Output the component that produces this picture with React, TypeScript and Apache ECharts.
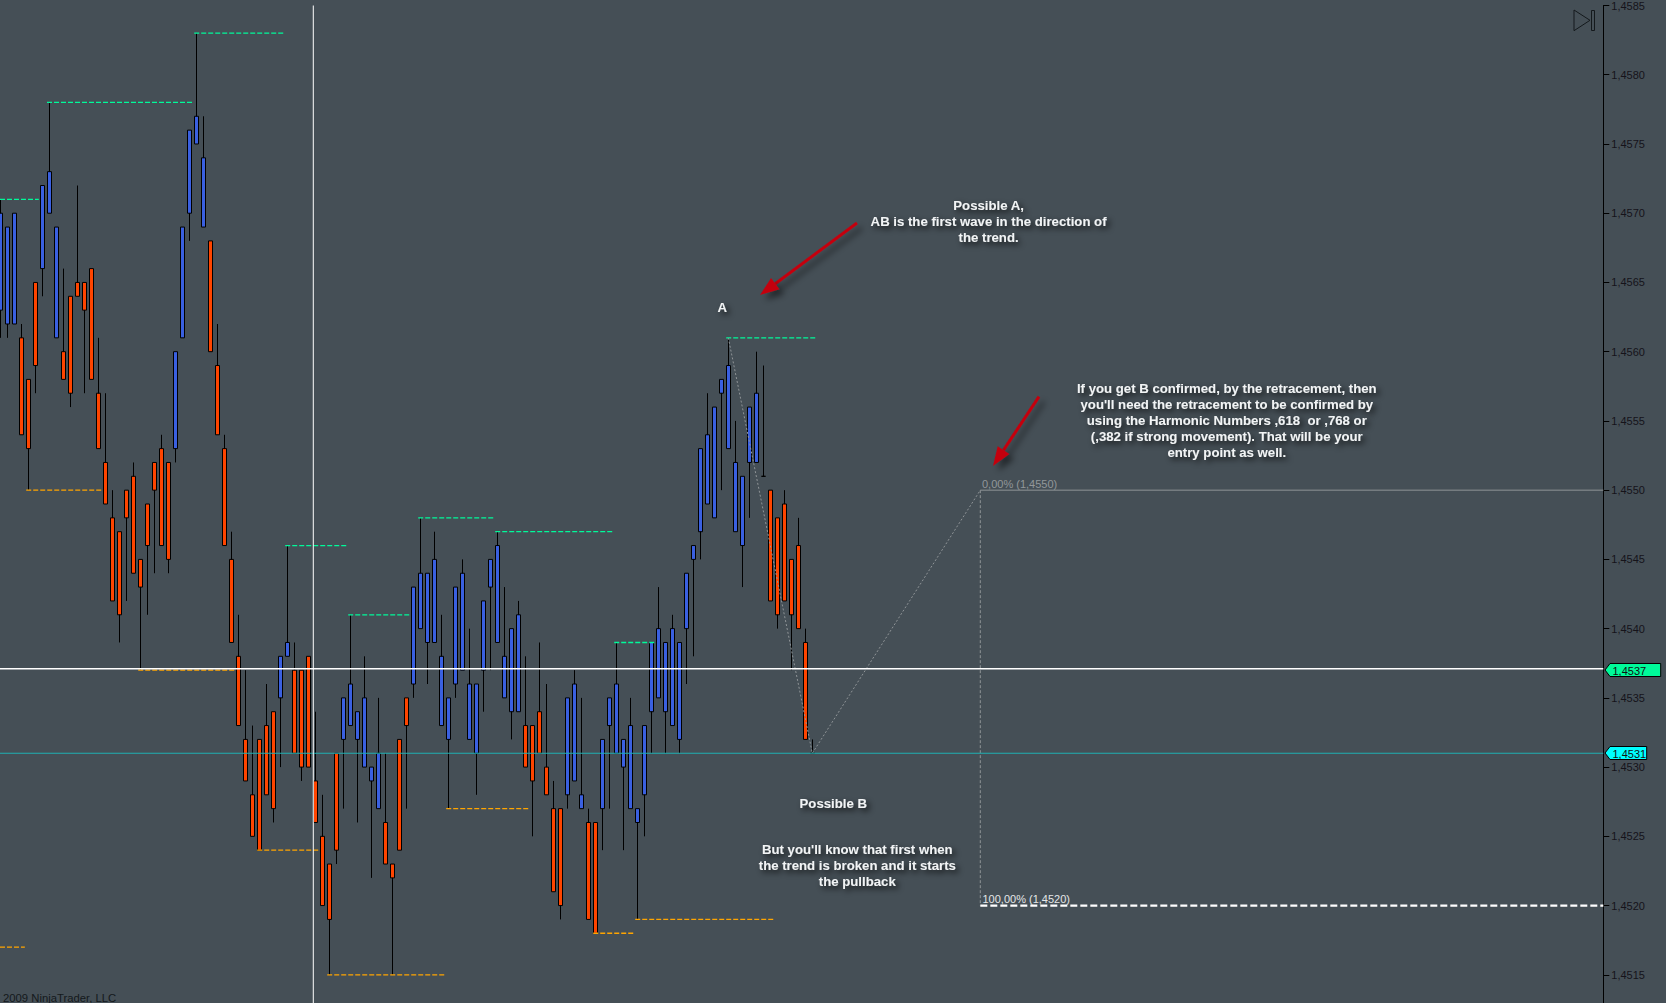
import React, { useEffect, useRef } from "react";
import * as echarts from "echarts";

const opens = [1.4563,1.4562,1.4562,1.4561,1.4558,1.4565,1.4566,1.4570,1.4561,1.4560,1.4564,1.4565,1.4565,1.4566,1.4557,1.4552,1.4548,1.4547,1.4550,1.4551,1.4545,1.4549,1.4552,1.4553,1.4552,1.4553,1.4561,1.4570,1.4575,1.4569,1.4568,1.4559,1.4553,1.4545,1.4538,1.4532,1.4528,1.4532,1.4533,1.4534,1.4535,1.4538,1.4537,1.4537,1.4538,1.4529,1.4525,1.4523,1.4531,1.4532,1.4533,1.4532,1.4530,1.4529,1.4527,1.4526,1.4523,1.4532,1.4535,1.4536,1.4540,1.4539,1.4539,1.4533,1.4532,1.4536,1.4537,1.4532,1.4531,1.4537,1.4543,1.4539,1.4535,1.4534,1.4534,1.4533,1.4533,1.4534,1.4530,1.4527,1.4527,1.4528,1.4529,1.4527,1.4526,1.4526,1.4527,1.4533,1.4531,1.4530,1.4527,1.4526,1.4528,1.4534,1.4535,1.4534,1.4533,1.4532,1.4540,1.4545,1.4547,1.4549,1.4548,1.4557,1.4553,1.4547,1.4546,1.4552,1.4552,1.4551,1.4550,1.4548,1.4549,1.4545,1.4546,1.4539,1.4531];
const closes = [1.4570,1.4569,1.4570,1.4554,1.4553,1.4559,1.4572,1.4573,1.4569,1.4558,1.4557,1.4564,1.4563,1.4558,1.4553,1.4549,1.4542,1.4541,1.4548,1.4544,1.4543,1.4546,1.4550,1.4546,1.4545,1.4560,1.4569,1.4576,1.4577,1.4574,1.4560,1.4554,1.4546,1.4539,1.4533,1.4529,1.4525,1.4524,1.4528,1.4527,1.4538,1.4539,1.4531,1.4530,1.4530,1.4526,1.4520,1.4519,1.4524,1.4535,1.4536,1.4534,1.4535,1.4530,1.4531,1.4523,1.4522,1.4524,1.4533,1.4543,1.4544,1.4544,1.4545,1.4538,1.4535,1.4543,1.4544,1.4536,1.4536,1.4542,1.4545,1.4546,1.4538,1.4540,1.4541,1.4530,1.4529,1.4531,1.4528,1.4521,1.4520,1.4535,1.4536,1.4528,1.4519,1.4518,1.4532,1.4535,1.4536,1.4532,1.4533,1.4527,1.4533,1.4539,1.4540,1.4539,1.4540,1.4539,1.4544,1.4546,1.4553,1.4554,1.4556,1.4558,1.4559,1.4552,1.4551,1.4556,1.4557,1.4551,1.4542,1.4541,1.4542,1.4541,1.4540,1.4532,1.4531];
const lows = [1.4561,1.4561,1.4562,1.4554,1.4550,1.4557,1.4564,1.4570,1.4561,1.4558,1.4556,1.4564,1.4557,1.4558,1.4553,1.4549,1.4542,1.4539,1.4542,1.4544,1.4537,1.4541,1.4544,1.4546,1.4544,1.4552,1.4561,1.4568,1.4575,1.4569,1.4560,1.4554,1.4546,1.4539,1.4533,1.4529,1.4525,1.4524,1.4528,1.4526,1.4530,1.4538,1.4531,1.4529,1.4530,1.4526,1.4520,1.4515,1.4523,1.4527,1.4533,1.4526,1.4530,1.4522,1.4527,1.4523,1.4515,1.4524,1.4527,1.4535,1.4540,1.4536,1.4539,1.4533,1.4527,1.4535,1.4537,1.4532,1.4528,1.4534,1.4537,1.4539,1.4535,1.4532,1.4534,1.4530,1.4525,1.4531,1.4528,1.4521,1.4519,1.4527,1.4529,1.4527,1.4519,1.4518,1.4524,1.4527,1.4531,1.4524,1.4527,1.4519,1.4525,1.4531,1.4535,1.4531,1.4533,1.4531,1.4536,1.4538,1.4545,1.4549,1.4548,1.4550,1.4553,1.4547,1.4543,1.4548,1.4552,1.4551,1.4542,1.4540,1.4542,1.4537,1.4540,1.4532,1.4531];
const highs = [1.4571,1.4569,1.4570,1.4562,1.4558,1.4565,1.4572,1.4578,1.4569,1.4566,1.4564,1.4572,1.4565,1.4566,1.4561,1.4557,1.4550,1.4547,1.4550,1.4552,1.4545,1.4549,1.4552,1.4554,1.4552,1.4560,1.4569,1.4576,1.4583,1.4577,1.4568,1.4562,1.4554,1.4547,1.4541,1.4537,1.4533,1.4532,1.4536,1.4534,1.4538,1.4546,1.4539,1.4537,1.4538,1.4534,1.4528,1.4523,1.4531,1.4535,1.4541,1.4534,1.4538,1.4530,1.4535,1.4531,1.4523,1.4532,1.4535,1.4543,1.4548,1.4544,1.4547,1.4541,1.4535,1.4543,1.4545,1.4540,1.4536,1.4542,1.4545,1.4547,1.4543,1.4540,1.4542,1.4538,1.4533,1.4539,1.4536,1.4529,1.4527,1.4535,1.4537,1.4535,1.4527,1.4526,1.4532,1.4535,1.4539,1.4532,1.4535,1.4527,1.4533,1.4539,1.4543,1.4539,1.4541,1.4539,1.4544,1.4546,1.4553,1.4557,1.4556,1.4558,1.4561,1.4555,1.4551,1.4556,1.4560,1.4559,1.4550,1.4548,1.4550,1.4545,1.4548,1.4540,1.4532];

// [first bar, last bar, price] of the swing high / low dashes
const swingHighs = [[-0.05,5.5,1.4571],[6.67,27.5,1.4578],[27.7,40.5,1.4583],[40.7,49.5,1.4546],[49.7,58.5,1.4541],[59.7,70.5,1.4548],[70.7,87.5,1.4547],[87.7,93.5,1.4539],[103.7,116.5,1.4561]];
const swingLows = [[-0.05,3.5,1.4517],[3.7,14.5,1.4550],[19.7,33.5,1.4537],[36.7,45.5,1.4524],[46.7,63.5,1.4515],[63.7,75.5,1.4527],[84.7,90.5,1.4518],[90.7,110.5,1.4519]];
const abcPath = [[104,1.4561],[116,1.4531],[140,1.4550]];
const fibBar = 140;
const fibTop = 1.4550;
const fibBottom = 1.4520;
const lastPrice = 1.45371;
const lastTick = 1.4531;
const cursorBar = 44.71;

const noteA = ["Possible A,", "AB is the first wave in the direction of", "the trend."];
const noteRetrace = ["If you get B confirmed, by the retracement, then", "you'll need the retracement to be confirmed by", "using the Harmonic Numbers ,618  or ,768 or", "(,382 if strong movement). That will be your", "entry point as well."];
const noteB = ["But you'll know that first when", "the trend is broken and it starts", "the pullback"];

const SANS = '"Liberation Sans", Arial, sans-serif';
const XMIN = -0.33 / 7;
const XMAX = 1603 / 7;
const YMIN = 1.451;
const YMAX = 1.4585;

function seg(points: number[][], color: string, width: number, type: any, z = 5) {
  return {
    type: "line",
    data: points,
    showSymbol: false,
    symbol: "none",
    silent: true,
    z,
    animation: false,
    lineStyle: { color, width, type },
  };
}

function note(text: string, x: number, y: number) {
  return {
    type: "text",
    silent: true,
    z: 50,
    style: {
      text,
      x,
      y,
      align: "center",
      verticalAlign: "middle",
      font: `bold 13.2px ${SANS}`,
      fill: "#f2f4f5",
      textShadowColor: "rgba(0,0,0,0.8)",
      textShadowBlur: 6,
      textShadowOffsetX: 3,
      textShadowOffsetY: 3,
    },
  };
}

function arrow(x1: number, y1: number, x2: number, y2: number) {
  const a = Math.atan2(y2 - y1, x2 - x1);
  const ux = Math.cos(a), uy = Math.sin(a);
  const len = 19, half = 7;
  const bx = x2 - ux * len, by = y2 - uy * len;
  const shadow = { shadowColor: "rgba(0,0,0,0.5)", shadowBlur: 6, shadowOffsetX: 5, shadowOffsetY: 5 };
  return [
    { type: "line", silent: true, z: 40, shape: { x1, y1, x2: bx, y2: by }, style: { stroke: "#c40010", lineWidth: 3, ...shadow } },
    { type: "polygon", silent: true, z: 41, shape: { points: [[x2, y2], [bx - uy * half, by + ux * half], [bx + uy * half, by - ux * half]] }, style: { fill: "#c40010", ...shadow } },
  ];
}

function tag(right: number, yc: number, fill: string, text: string) {
  return [
    { type: "polygon", silent: true, z: 30, shape: { points: [[1605, yc], [1610, yc - 6.5], [right, yc - 6.5], [right, yc + 6.5], [1610, yc + 6.5]] }, style: { fill, stroke: "#000", lineWidth: 1 } },
    { type: "text", silent: true, z: 31, style: { text, x: 1612.5, y: yc + 0.5, verticalAlign: "middle", font: `11px ${SANS}`, fill: "#111" } },
  ];
}

export default function App() {
  const ref = useRef<HTMLDivElement>(null);
  useEffect(() => {
    document.body.style.margin = "0";
    document.body.style.overflow = "hidden";
    const chart = echarts.init(ref.current!, null, { renderer: "svg" });
    const candles = opens.map((o, i) => [i, o, closes[i], lows[i], highs[i]]);
    const fmt = (v: number) => (v < 1.4512 ? "" : v.toFixed(4).replace(".", ","));
    chart.setOption({
      animation: false,
      backgroundColor: "#454f56",
      grid: { left: 0, top: 5.3, width: 1603.3, height: 1038.75, containLabel: false },
      xAxis: { type: "value", show: false, min: XMIN, max: XMAX, splitLine: { show: false } },
      yAxis: {
        type: "value",
        position: "right",
        min: YMIN,
        max: YMAX,
        interval: 0.0005,
        scale: true,
        splitLine: { show: false },
        axisLine: { show: true, onZero: false, lineStyle: { color: "#000", width: 1 } },
        axisTick: { show: true, length: 6, lineStyle: { color: "#000", width: 1 } },
        axisLabel: { show: true, margin: 8, color: "#15131a", fontSize: 11, fontFamily: SANS, formatter: fmt, align: "left", padding: [3, 0, 0, 0] },
      },
      series: [
        {
          type: "candlestick",
          data: candles,
          barWidth: 5,
          silent: true,
          z: 2,
          itemStyle: {
            color: "#3a60e0",
            color0: "#ff4500",
            borderColor: "#000",
            borderColor0: "#000",
            borderColorDoji: "#000",
            borderWidth: 1,
          },
        },
        ...swingHighs.map(([a, b, p]) => seg([[a, p], [b, p]], "#00fa9a", 1.3, [5, 2], 3)),
        ...swingLows.map(([a, b, p]) => seg([[a, p], [b, p]], "#ffa500", 1.3, [5, 2], 3)),
        seg(abcPath, "#8f9497", 1, [2, 2], 6),
        seg([[fibBar, fibTop], [fibBar, fibBottom]], "#8f9497", 1, [3, 2], 6),
        seg([[fibBar, fibTop], [XMAX, fibTop]], "#8f9497", 1, "solid", 6),
        seg([[fibBar, fibBottom], [XMAX, fibBottom]], "#ffffff", 2.2, [7, 3], 6),
        seg([[XMIN, lastPrice], [XMAX, lastPrice]], "#ffffff", 1.5, "solid", 7),
        seg([[XMIN, lastTick], [XMAX, lastTick]], "#1fb0b3", 1, "solid", 7),
        seg([[cursorBar, YMIN], [cursorBar, YMAX]], "#ffffff", 1, "solid", 7),
      ],
      graphic: [
        ...noteA.map((t, i) => note(t, 988.6, 205.3 + i * 16)),
        ...noteRetrace.map((t, i) => note(t, 1226.8, 388.3 + i * 16)),
        note("A", 722.3, 307.3),
        note("Possible B", 833.3, 803.3),
        ...noteB.map((t, i) => note(t, 857.3, 849.3 + i * 16)),
        ...arrow(857, 223, 760, 295),
        ...arrow(1039, 396.7, 993, 466),
        { type: "text", silent: true, z: 20, style: { text: "0,00% (1,4550)", x: 982, y: 484, verticalAlign: "middle", font: `11px ${SANS}`, fill: "#92979a" } },
        { type: "text", silent: true, z: 20, style: { text: "100,00% (1,4520)", x: 982.5, y: 899, verticalAlign: "middle", font: `11px ${SANS}`, fill: "#e4e6e7" } },
        { type: "text", silent: true, z: 20, style: { text: "2009 NinjaTrader, LLC", x: 3, y: 997.5, verticalAlign: "middle", font: `11.3px ${SANS}`, fill: "#14191c" } },
        ...tag(1660.7, 670, "#00fa9a", "1,4537"),
        ...tag(1646.7, 753, "#00ffff", "1,4531"),
        { type: "polygon", silent: true, z: 20, shape: { points: [[1574, 10], [1590, 20.3], [1574, 30.7]] }, style: { fill: "none", stroke: "#14191c", lineWidth: 1 } },
        { type: "rect", silent: true, z: 20, shape: { x: 1591.5, y: 10.5, width: 3, height: 20 }, style: { fill: "none", stroke: "#14191c", lineWidth: 1 } },
      ],
    });
    return () => chart.dispose();
  }, []);
  return (
    <div style={{ position: "absolute", left: 0, top: 0, width: 1666, height: 1003, overflow: "hidden" }}>
      <div ref={ref} style={{ width: 1666, height: 1060 }} />
    </div>
  );
}
